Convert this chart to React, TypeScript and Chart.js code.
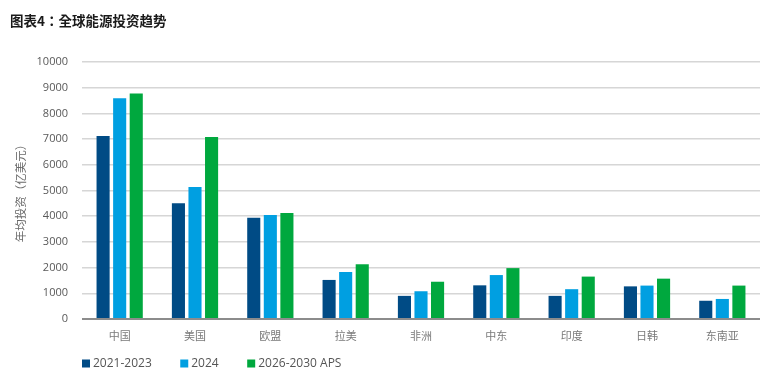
import React, { useEffect, useRef } from "react";
import { Chart, registerables } from "chart.js";

Chart.register(...registerables);

const titleText = "图表4：全球能源投资趋势";
const yAxisTitle = "年均投资（亿美元）";
const categories = ["中国", "美国", "欧盟", "拉美", "非洲", "中东", "印度", "日韩", "东南亚"];
const seriesNames = ["2021-2023", "2024", "2026-2030 APS"];
const seriesColors = ["#004B85", "#009FE1", "#00A83E"];
const values2021to2023 = [7120, 4500, 3940, 1520, 900, 1310, 900, 1270, 710];
const values2024 = [8590, 5140, 4050, 1830, 1080, 1710, 1160, 1300, 780];
const values2026to2030 = [8770, 7080, 4120, 2130, 1450, 1980, 1650, 1570, 1300];
const yMin = 0;
const yMax = 10000;
const yStep = 1000;

const CJK = "'Noto Sans CJK SC', 'Noto Sans', sans-serif";
const CJK_TITLE = "'Noto Sans CJK TC', 'Noto Sans CJK SC', sans-serif";
const LATIN = "'Open Sans', 'Noto Sans', sans-serif";

const overlayPlugin = {
  id: "overlayText",
  afterDraw(chart: any) {
    const ctx = chart.ctx as CanvasRenderingContext2D;
    ctx.save();
    ctx.textBaseline = "middle";
    ctx.textAlign = "left";
    ctx.font = `bold 13.5px ${CJK_TITLE}`;
    ctx.fillStyle = "#1a1a1a";
    ctx.fillText(titleText, 10, 21);

    ctx.font = `12px ${LATIN}`;
    let x = chart.chartArea.left;
    const y = 363.5;
    chart.data.datasets.forEach((ds: any) => {
      ctx.fillStyle = ds.backgroundColor;
      ctx.fillRect(x, y - 4, 8, 8);
      x += 8 + 3;
      ctx.fillStyle = "#555555";
      ctx.fillText(ds.label, x, y);
      x += ctx.measureText(ds.label).width + 28.5;
    });
    ctx.restore();
  },
};

export default function App() {
  const canvasRef = useRef<HTMLCanvasElement | null>(null);

  useEffect(() => {
    if (!canvasRef.current) return;
    const seriesValues = [values2021to2023, values2024, values2026to2030];
    const chart = new Chart(canvasRef.current, {
      type: "bar",
      data: {
        labels: categories,
        datasets: seriesNames.map((name, i) => ({
          label: name,
          data: seriesValues[i],
          backgroundColor: seriesColors[i],
          borderWidth: 0,
          barPercentage: 0.79,
          categoryPercentage: 0.66,
        })),
      },
      options: {
        responsive: false,
        animation: false,
        layout: { padding: { top: 62, left: 10, right: 9, bottom: 32 } },
        plugins: {
          legend: { display: false },
          title: { display: false },
          tooltip: { enabled: false },
        },
        scales: {
          x: {
            grid: { display: false, drawTicks: false },
            border: { display: false },
            ticks: {
              font: { family: CJK, size: 11 },
              color: "#7a7a7a",
              padding: 10,
              maxRotation: 0,
            },
            afterFit: (s: any) => {
              s.height = 26;
            },
          },
          y: {
            min: yMin,
            max: yMax,
            border: { display: false },
            grid: {
              drawTicks: false,
              color: (c: any) => (c.tick && c.tick.value === 0 ? "#8c8c8c" : "#d6d6d6"),
              lineWidth: (c: any) => (c.tick && c.tick.value === 0 ? 2 : 1.5),
            },
            ticks: {
              stepSize: yStep,
              padding: 14,
              font: { family: LATIN, size: 11 },
              color: "#595959",
              callback: (v: any) => String(v),
            },
            title: {
              display: true,
              text: yAxisTitle,
              font: { family: CJK, size: 11.5 },
              color: "#6a6a6a",
              padding: { top: 4, bottom: 0 },
            },
            afterFit: (s: any) => {
              s.width = 72;
            },
          },
        },
      },
      plugins: [overlayPlugin],
    });
    return () => chart.destroy();
  }, []);

  return (
    <div style={{ position: "fixed", left: 0, top: 0, width: 769, height: 377, background: "#fff" }}>
      <canvas ref={canvasRef} width={769} height={377} style={{ display: "block" }} />
    </div>
  );
}
